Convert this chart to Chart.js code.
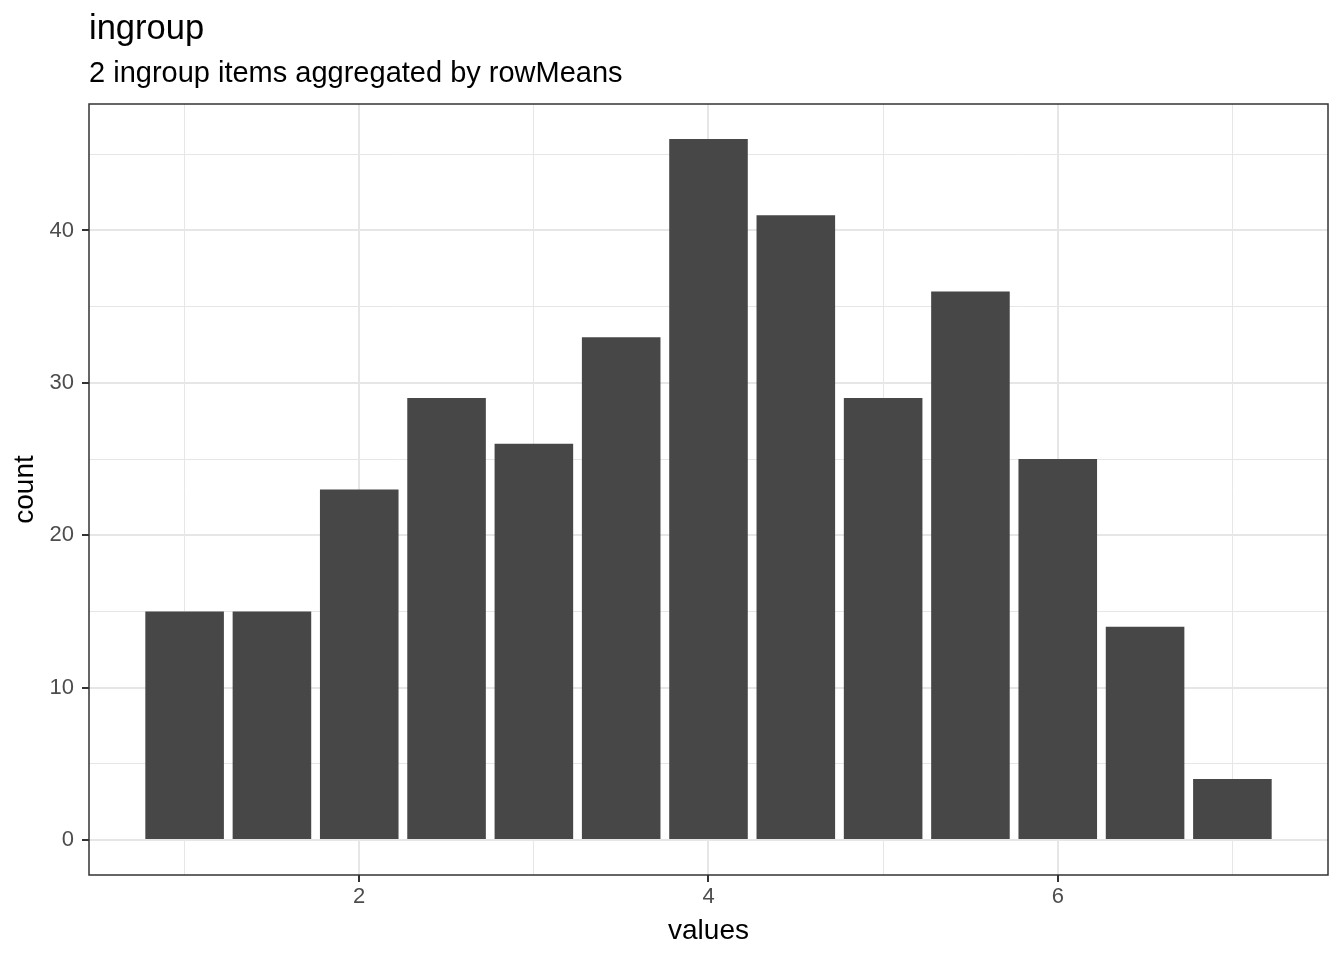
<!doctype html>
<html lang="en">

<head>
    <meta charset="utf-8">
    <title>ingroup - 2 ingroup items aggregated by rowMeans</title>
    <script src="https://cdn.jsdelivr.net/npm/chart.js@4.4.0/dist/chart.umd.min.js"></script>
    <style>
        html, body { margin: 0; padding: 0; background: #fff; }
        canvas { display: block; }
    </style>
</head>

<body>

    <canvas id="chart" width="1344" height="960"></canvas>

    <script>
        // histogram bins (centres) and counts
        var binCenters = [1, 1.5, 2, 2.5, 3, 3.5, 4, 4.5, 5, 5.5, 6, 6.5, 7];
        var counts = [15, 15, 23, 29, 26, 33, 46, 41, 29, 36, 25, 14, 4];
        var xTicks = [1, 2, 3, 4, 5, 6, 7];          // even = labelled, odd = minor grid
        var yTicks = [0, 5, 10, 15, 20, 25, 30, 35, 40, 45];

        var titulo = 'ingroup';
        var subtitulo = '2 ingroup items aggregated by rowMeans';

        var FONT = '"Liberation Sans", Arial, Helvetica, sans-serif';

        var puntos = [];
        for (var i = 0; i < binCenters.length; i++) {
            puntos.push({ x: binCenters[i], y: counts[i] });
        }

        // titles + full panel border (ggplot theme_bw look)
        var marco = {
            id: 'marco',
            afterDraw: function (chart) {
                var ctx = chart.ctx;
                var a = chart.chartArea;
                ctx.save();
                ctx.strokeStyle = '#333333';
                ctx.lineWidth = 1.5;
                ctx.strokeRect(a.left, a.top, a.right - a.left, a.bottom - a.top);
                ctx.fillStyle = '#000';
                ctx.textAlign = 'left';
                ctx.textBaseline = 'alphabetic';
                ctx.font = '34.5px ' + FONT;
                ctx.fillText(titulo, a.left, 39);
                ctx.font = '29px ' + FONT;
                ctx.fillText(subtitulo, a.left, 82);
                ctx.restore();
            }
        };

        new Chart(document.getElementById('chart').getContext('2d'), {
            type: 'bar',
            data: {
                datasets: [{
                    label: 'count',
                    data: puntos,
                    backgroundColor: '#474747',
                    borderWidth: 0,
                    barPercentage: 0.9,
                    categoryPercentage: 1.0
                }]
            },
            options: {
                responsive: false,
                animation: false,
                devicePixelRatio: 1,
                layout: { padding: { top: 104, right: 16, left: 0, bottom: 0 } },
                plugins: {
                    legend: { display: false },
                    tooltip: { enabled: false }
                },
                scales: {
                    x: {
                        type: 'linear',
                        offset: false,
                        min: 0.4525,
                        max: 7.5475,
                        afterBuildTicks: function (s) {
                            s.ticks = xTicks.map(function (v) { return { value: v }; });
                        },
                        afterFit: function (s) { s.height = 85; },
                        border: { display: false },
                        grid: {
                            offset: false,
                            color: '#E6E6E6',
                            lineWidth: function (c) { return c.tick && c.tick.value % 2 === 0 ? 2 : 1; },
                            tickColor: function (c) { return c.tick && c.tick.value % 2 === 0 ? '#333333' : 'rgba(0,0,0,0)'; },
                            tickLength: 7,
                            tickWidth: 2
                        },
                        ticks: {
                            padding: 2,
                            maxRotation: 0,
                            autoSkip: false,
                            color: '#4D4D4D',
                            font: { family: FONT, size: 22 },
                            callback: function (v) { return v % 2 === 0 ? String(v) : ''; }
                        },
                        title: {
                            display: true,
                            text: 'values',
                            color: '#000',
                            font: { family: FONT, size: 28 },
                            padding: { top: 0, bottom: 12 }
                        }
                    },
                    y: {
                        type: 'linear',
                        min: -2.3,
                        max: 48.3,
                        afterBuildTicks: function (s) {
                            s.ticks = yTicks.map(function (v) { return { value: v }; });
                        },
                        afterFit: function (s) { s.width = 89; },
                        border: { display: false },
                        grid: {
                            color: '#E6E6E6',
                            lineWidth: function (c) { return c.tick && c.tick.value % 10 === 0 ? 2 : 1; },
                            tickColor: function (c) { return c.tick && c.tick.value % 10 === 0 ? '#333333' : 'rgba(0,0,0,0)'; },
                            tickLength: 7,
                            tickWidth: 2
                        },
                        ticks: {
                            padding: 8,
                            autoSkip: false,
                            color: '#4D4D4D',
                            font: { family: FONT, size: 22 },
                            callback: function (v) { return v % 10 === 0 ? String(v) : ''; }
                        },
                        title: {
                            display: true,
                            text: 'count',
                            color: '#000',
                            font: { family: FONT, size: 28 },
                            padding: { top: 8, bottom: 0 }
                        }
                    }
                }
            },
            plugins: [marco]
        });
    </script>

</body>

</html>
